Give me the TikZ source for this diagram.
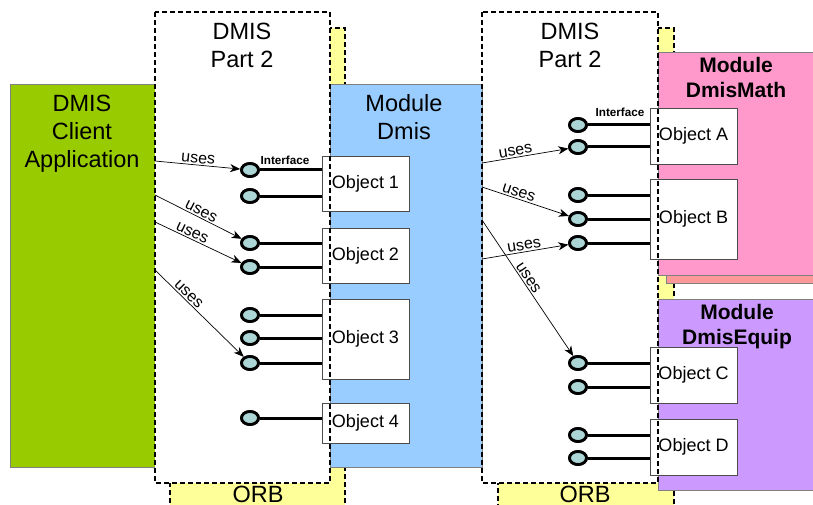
\documentclass[tikz,border=0pt]{standalone}
\usepackage{fontspec}
\setmainfont{Liberation Sans}
\usetikzlibrary{shapes.geometric,arrows.meta}
\definecolor{clientGreen}{RGB}{153,204,0}
\definecolor{orbYellow}{RGB}{255,255,153}
\definecolor{dmisBlue}{RGB}{153,204,255}
\definecolor{mathPink}{RGB}{255,153,204}
\definecolor{mathSalmon}{RGB}{255,153,153}
\definecolor{equipPurple}{RGB}{204,153,255}
\definecolor{ifaceTeal}{RGB}{172,214,214}
\begin{document}
\begin{tikzpicture}[x=1pt,y=-1pt,
        box/.style={anchor=north west,inner sep=0pt,outer sep=0pt,draw=black!50,line width=0.8pt},
        orb/.style={anchor=north west,inner sep=0pt,outer sep=0pt,fill=orbYellow,draw=black,
                    line width=1.5pt,dash pattern=on 5pt off 3pt},
        part/.style={anchor=north west,inner sep=0pt,outer sep=0pt,fill=white},
        partline/.style={draw=black,line width=1.5pt,dash pattern=on 5pt off 3pt},
        object/.style={anchor=north west,inner sep=0pt,outer sep=0pt,fill=white,draw=black!70,
                       line width=0.8pt,minimum width=87pt,font=\fontsize{18}{21}\selectfont},
        iface/.style={ellipse,draw=black,fill=ifaceTeal,line width=2.8pt,minimum width=17pt,
                      minimum height=13pt,inner sep=0pt},
        stub/.style={line width=3pt},
        uses/.style={-{Stealth[length=10pt,width=8pt,inset=3pt]},line width=0.7pt},
        useslabel/.style={font=\fontsize{16}{18}\selectfont,sloped,above,inner sep=1.5pt},
        iflabel/.style={font=\bfseries\fontsize{11.7}{13}\selectfont,inner sep=0pt},
        title/.style={align=center,anchor=north,inner sep=0pt,font=\fontsize{23.5}{28}\selectfont},
        modtitle/.style={align=center,anchor=north,inner sep=0pt,font=\bfseries\fontsize{21}{25}\selectfont}
    ]
    \useasboundingbox (0,0) rectangle (813,505);

    \node[orb,minimum width=175pt,minimum height=500pt] (orbL) at (170,28) {};
    \node[orb,minimum width=176pt,minimum height=500pt] (orbR) at (498,28) {};
    \node[box,fill=clientGreen,minimum width=145pt,minimum height=383pt] (app) at (10,84) {};
    \node[part,minimum width=175pt,minimum height=471pt] (partL) at (155,12) {};
    \node[part,minimum width=176pt,minimum height=471pt] (partR) at (482,12) {};
    \node[box,fill=dmisBlue,minimum width=152pt,minimum height=383pt] (dmis) at (330,84) {};
    \node[box,fill=mathSalmon,minimum width=170pt,minimum height=223pt] (mathback) at (666,60) {};
    \node[box,fill=mathPink,minimum width=170pt,minimum height=223pt] (math) at (658,52) {};
    \node[box,fill=equipPurple,minimum width=170pt,minimum height=191pt] (equip) at (658,299) {};

    \node[title] (appname) at (82,95) {DMIS\\Client\\Application};
    \node[title] (partLname) at (242,23) {DMIS\\Part 2};
    \node[title] (partRname) at (570,23) {DMIS\\Part 2};
    \node[title] (dmisname) at (404,94) {Module\\Dmis};
    \node[modtitle] (mathname) at (736,57) {Module\\DmisMath};
    \node[modtitle] (equipname) at (737,304) {Module\\DmisEquip};
    \node[title] (orbLname) at (258,486) {ORB};
    \node[title] (orbRname) at (585,486) {ORB};

    % interfaces
    \foreach \y [count=\i] in {170,196,243,267,315,338,363,418} {
        \node[iface] (l\i) at (250,\y) {};
        \coordinate (le\i) at (322,\y);
        \draw[stub] (l\i.east) -- (le\i);
        \node[iface] at (l\i) {};
    }
    \foreach \y [count=\i] in {125,147,195,219,243,363,387,435,458} {
        \node[iface] (r\i) at (578,\y) {};
        \coordinate (re\i) at (650,\y);
        \draw[stub] (r\i.east) -- (re\i);
        \node[iface] at (r\i) {};
    }
    \node[iflabel] (ifL) at (285,160) {Interface};
    \node[iflabel] (ifR) at (620,112) {Interface};

    \node[object,minimum height=55pt] (obj1) at (322,156) {Object 1};
    \node[object,minimum height=55pt] (obj2) at (322,228) {Object 2};
    \node[object,minimum height=80pt] (obj3) at (322,299) {Object 3};
    \node[object,minimum height=40pt] (obj4) at (322,403) {Object 4};
    \node[object,minimum height=56pt] (objA) at (650,108) {Object A};
    \node[object,minimum height=80pt] (objB) at (650,179) {Object B};
    \node[object,minimum height=56pt] (objC) at (650,347) {Object C};
    \node[object,minimum height=56pt] (objD) at (650,419) {Object D};

    \draw[partline] (partL.north west) rectangle (partL.south east);
    \draw[partline] (partR.north west) rectangle (partR.south east);

    % uses
    \coordinate (u1) at (155,161);
    \coordinate (u2) at (155,195);
    \coordinate (u3) at (155,222);
    \coordinate (u4) at (155,270);
    \coordinate (v1) at (482,163);
    \coordinate (v2) at (482,187);
    \coordinate (v3) at (482,259);
    \coordinate (v4) at (482,220);
    \draw[uses] (u1) -- node[useslabel,pos=.5] {uses} (l1);
    \draw[uses] (u2) -- node[useslabel,pos=.5] {uses} (l3);
    \draw[uses] (u3) -- node[useslabel,pos=.4] {uses} (l4);
    \draw[uses] (u4) -- node[useslabel,pos=.33] {uses} (l7);
    \draw[uses] (v1) -- node[useslabel,pos=.4] {uses} (r2);
    \draw[uses] (v2) -- node[useslabel,pos=.4] {uses} (r4);
    \draw[uses] (v3) -- node[useslabel,pos=.5] {uses} (r5);
    \draw[uses] (v4) -- node[useslabel,pos=.45] {uses} (r6);
\end{tikzpicture}
\end{document}
